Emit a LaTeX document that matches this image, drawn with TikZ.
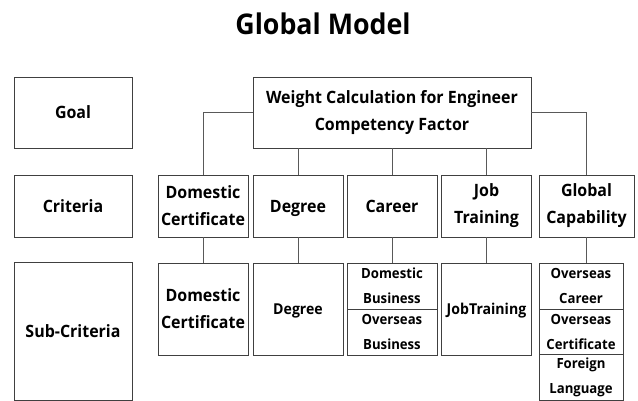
\documentclass[tikz,border=0pt]{standalone}
\usepackage{fontspec}
\setmainfont{Open Sans}[FakeStretch=0.94]
\begin{document}
\begin{tikzpicture}[x=1pt,y=-1pt,
  box/.style={draw=black!75, line width=0.9pt, fill=white, align=center,
    inner sep=0pt, font=\bfseries\fontsize{17}{27}\selectfont},
  small/.style={font=\bfseries\fontsize{14}{25}\selectfont},
  single/.style={font=\bfseries\fontsize{15}{25}\selectfont, text depth=0pt},
  capcenter/.style={text depth=0pt},
  link/.style={draw=black!65, line width=0.9pt}]
\useasboundingbox (0,0) rectangle (638,401);

% title
\node[font=\bfseries\fontsize{28.5}{34}\selectfont] (title) at (323,24) {Global Model};

% level labels
\node[box, minimum width=118, minimum height=71] (goal) at (73,112.5) {Goal};
\node[box, minimum width=118, minimum height=62] (crit) at (73,206) {Criteria};
\node[box, minimum width=118, minimum height=138] (sub) at (73,331) {Sub-Criteria};

% goal
\node[box, minimum width=278, minimum height=71] (top) at (392,112.5)
  {Weight Calculation for Engineer\\Competency Factor};

% criteria
\node[box, minimum width=90, minimum height=62] (dc) at (203,206) {Domestic\\Certificate};
\node[box, capcenter, minimum width=90, minimum height=62] (deg) at (298,206) {Degree};
\node[box, minimum width=90, minimum height=62] (car) at (392,206) {Career};
\node[box, minimum width=90, minimum height=62] (jt) at (486.5,206) {Job\\Training};
\node[box, minimum width=95, minimum height=62] (gc) at (586.5,206) {Global\\Capability};

% sub-criteria
\node[box, minimum width=90, minimum height=92] (dcs) at (203,309) {Domestic\\Certificate};
\node[box, single, minimum width=90, minimum height=92] (degs) at (298,309) {Degree};
\node[box, small, minimum width=90, minimum height=46] (db) at (392,286) {Domestic\\Business};
\node[box, small, minimum width=90, minimum height=46] (ob) at (392,332) {Overseas\\Business};
\node[box, single, minimum width=90, minimum height=92] (jts) at (486.5,309) {JobTraining};
\node[box, small, minimum width=84, minimum height=46] (oc) at (581,286) {Overseas\\Career};
\node[box, small, minimum width=84, minimum height=46] (ocert) at (581,332) {Overseas\\Certificate};
\node[box, small, minimum width=84, minimum height=46] (fl) at (581,377.5) {Foreign\\Language};

% goal to criteria
\draw[link] (top.west) -| (dc.north);
\draw[link] (top.east) -| (gc.north);
\draw[link] (top.south -| deg.north) -- (deg.north);
\draw[link] (top.south -| car.north) -- (car.north);
\draw[link] (top.south -| jt.north) -- (jt.north);

% criteria to sub-criteria
\draw[link] (dc.south) -- (dcs.north);
\draw[link] (deg.south) -- (degs.north);
\draw[link] (car.south) -- (db.north);
\draw[link] (jt.south) -- (jts.north);
\draw[link] (gc.south) -- (gc.south |- oc.north);
\end{tikzpicture}
\end{document}
